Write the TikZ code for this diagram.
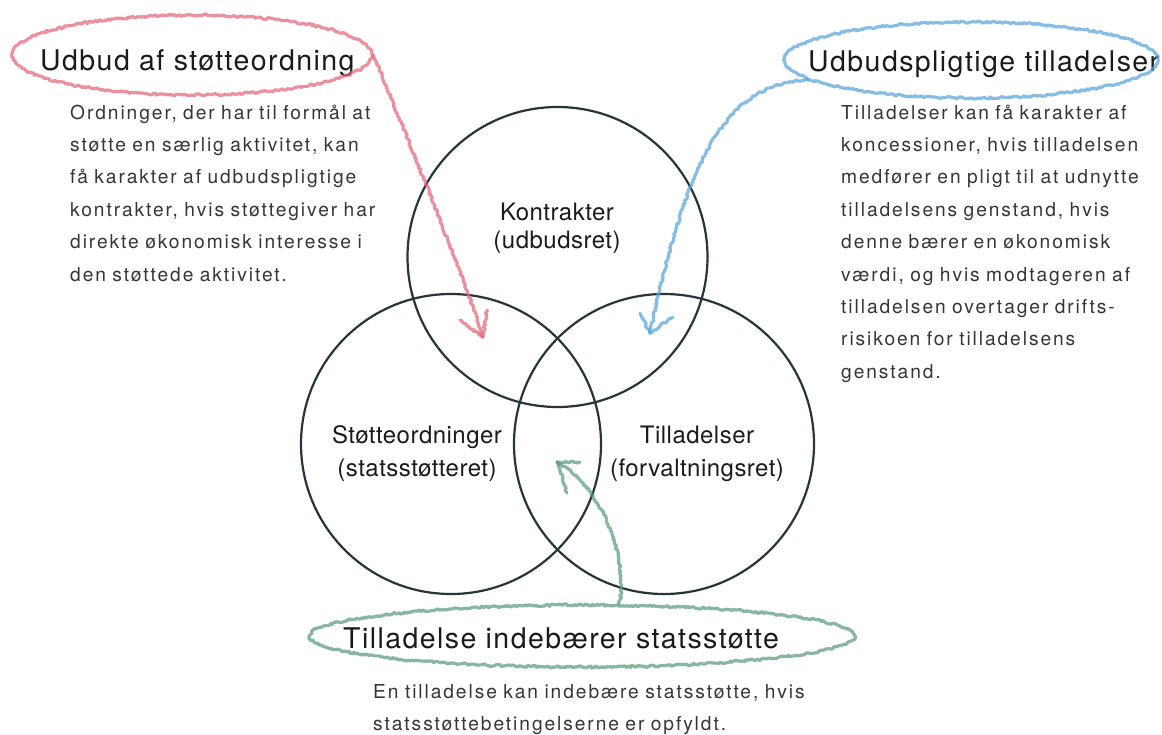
\documentclass[tikz,border=0pt]{standalone}
\usepackage{fontspec}
\setmainfont{TeX Gyre Heros}
\newfontfamily\headfont[LetterSpace=5]{TeX Gyre Heros}
\newfontfamily\bodyfont[LetterSpace=10]{TeX Gyre Heros}
\newfontfamily\ringfont[LetterSpace=2]{TeX Gyre Heros}
\usepackage{tikz}
\usetikzlibrary{calc,shapes.geometric,decorations.pathmorphing}
\definecolor{ringcol}{HTML}{263638}
\definecolor{redpen}{HTML}{E0667A}
\definecolor{bluepen}{HTML}{5AA4D8}
\definecolor{greenpen}{HTML}{5A9A7C}
\definecolor{inkcol}{HTML}{1A1A1A}
\definecolor{bodycol}{HTML}{353535}
\tikzset{
  ring/.style={circle, draw=ringcol, line width=2.2pt, minimum size=300pt, inner sep=0pt},
  ringtxt/.style={font=\ringfont\fontsize{24}{#1}\selectfont, text=inkcol, align=center,
    text width=220pt, inner sep=0pt, anchor=base},
  headtxt/.style={font=\headfont\fontsize{28.5}{32}\selectfont, text=inkcol, inner sep=0pt, anchor=base west},
  bodytxt/.style={font=\bodyfont\fontsize{19.2}{32.4}\selectfont, text=bodycol, align=left,
    text width=#1, inner sep=0pt, anchor=base west},
  pencil/.style={line width=3.2pt, draw opacity=0.72, line cap=round, line join=round,
    decorate, decoration={random steps, segment length=2pt, amplitude=1.1pt}},
  lasso/.style={ellipse, draw=#1, pencil, inner sep=0pt},
}
\begin{document}
\begin{tikzpicture}[x=1pt, y=-1pt]
\pgfmathsetseed{7}
\useasboundingbox (0,0) rectangle (1162,734);

% the three circles
\node[ring] (kontrakter) at (557.5,257) {};
\node[ring] (stoette) at (451,444) {};
\node[ring] (tillad) at (664,444) {};
\node[ringtxt=28pt] (kontrakterTxt) at (557,220) {Kontrakter\\(udbudsret)};
\node[ringtxt=33pt] (stoetteTxt) at (417,443) {Støtteordninger\\(statsstøtteret)};
\node[ringtxt=33pt] (tilladTxt) at (697,443) {Tilladelser\\(forvaltningsret)};

% headings and notes
\node[headtxt] (hdStoette) at (40,70) {Udbud af støtteordning};
\node[bodytxt=340pt] (txStoette) at (70,119) {Ordninger, der har til formål at\\
støtte en særlig aktivitet, kan\\
få karakter af udbudspligtige\\
kontrakter, hvis støttegiver har\\
direkte økonomisk interesse i\\
den støttede aktivitet.};

\node[headtxt] (hdUdbud) at (808,71) {Udbudspligtige tilladelser};
\node[bodytxt=320pt] (txUdbud) at (841,119) {Tilladelser kan få karakter af\\
koncessioner, hvis tilladelsen\\
medfører en pligt til at udnytte\\
tilladelsens genstand, hvis\\
denne bærer en økonomisk\\
værdi, og hvis modtageren af\\
tilladelsen overtager drifts-\\
risikoen for tilladelsens\\
genstand.};

\node[headtxt] (hdTillad) at (343,648) {Tilladelse indebærer statsstøtte};
\node[bodytxt=460pt] (txTillad) at (373,698) {En tilladelse kan indebære statsstøtte, hvis\\
statsstøttebetingelserne er opfyldt.};

% pencil loops and arrows
\node[lasso=redpen, minimum width=360pt, minimum height=80pt] (lassoStoette) at (192,55) {};
\node[lasso=bluepen, minimum width=374pt, minimum height=76pt] (lassoUdbud) at (971,60) {};
\node[lasso=greenpen, minimum width=545pt, minimum height=62pt] (lassoTillad) at (582,636) {};

\coordinate (tipStoette) at (483,337);
\coordinate (tipUdbud) at (650,333);
\coordinate (tipTillad) at (557,462);

\draw[pencil, draw=redpen] (lassoStoette.east) .. controls (390,95) and (470,290) .. (tipStoette);
\draw[pencil, draw=redpen] ($(tipStoette)+(-23,-17)$) -- (tipStoette) -- ($(tipStoette)+(4,-27)$);

\draw[pencil, draw=bluepen] (lassoUdbud.187) .. controls (730,84) and (690,145) .. (tipUdbud);
\draw[pencil, draw=bluepen] ($(tipUdbud)+(-10,-20)$) -- (tipUdbud) -- ($(tipUdbud)+(23,-16)$);

\draw[pencil, draw=greenpen] (lassoTillad.41) .. controls (628,560) and (605,490) .. (tipTillad);
\draw[pencil, draw=greenpen] ($(tipTillad)+(23,0)$) -- (tipTillad) -- ($(tipTillad)+(10,31)$);
\end{tikzpicture}
\end{document}
